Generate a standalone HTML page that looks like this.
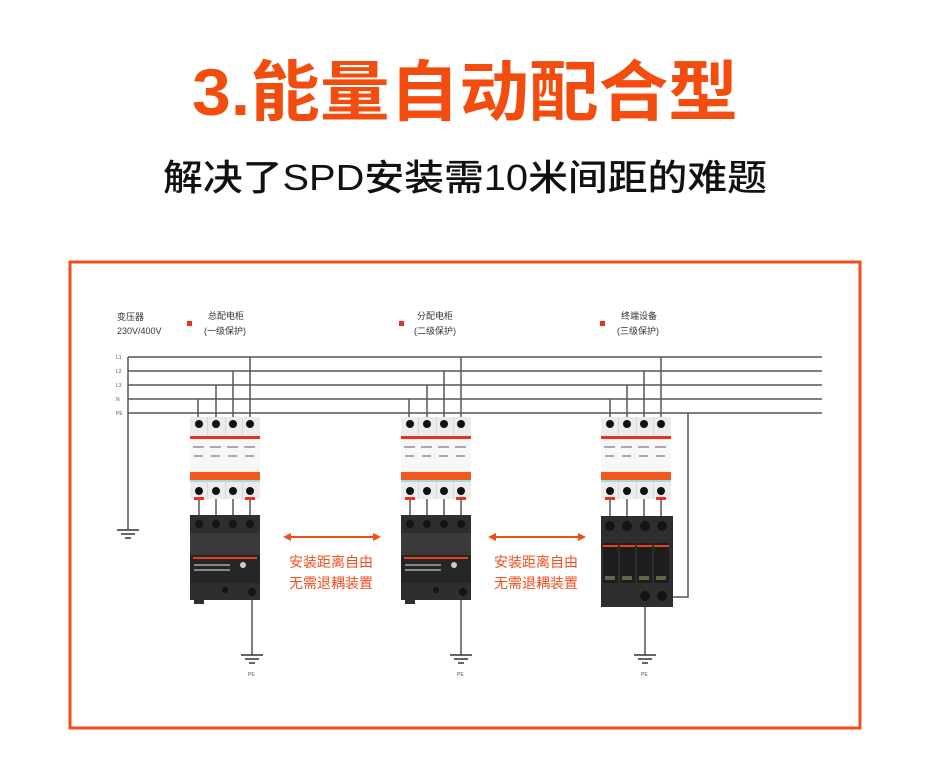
<!DOCTYPE html>
<html><head><meta charset="utf-8"><style>
html,body{margin:0;padding:0;background:#fff;}
svg{display:block;}
text{font-family:"Liberation Sans","Noto Sans CJK SC",sans-serif;}
</style></head><body>
<svg width="930" height="780" viewBox="0 0 930 780" xmlns="http://www.w3.org/2000/svg">
<defs>
  <g id="brk">
    <rect x="0" y="0" width="70" height="82" fill="#ececec"/>
    <rect x="17" y="0" width="1" height="82" fill="#d8d8d8"/>
    <rect x="35" y="0" width="1" height="82" fill="#d8d8d8"/>
    <rect x="52" y="0" width="1" height="82" fill="#d8d8d8"/>
    <rect x="0" y="19" width="70" height="3" fill="#e8321e"/>
    <rect x="0" y="22" width="70" height="32" fill="#f7f7f7"/>
    <rect x="0" y="55" width="70" height="8" fill="#f05a1e"/>
    <rect x="0" y="63" width="70" height="2" fill="#9fdbe8"/>
    <g fill="#111">
      <circle cx="9" cy="7" r="4"/><circle cx="26" cy="7" r="4"/><circle cx="43" cy="7" r="4"/><circle cx="60" cy="7" r="4"/>
      <circle cx="9" cy="74" r="4"/><circle cx="26" cy="74" r="4"/><circle cx="43" cy="74" r="4"/><circle cx="60" cy="74" r="4"/>
    </g>
    <g fill="#aaa">
      <rect x="3" y="29" width="11" height="2"/><rect x="20" y="29" width="11" height="2"/><rect x="37" y="29" width="11" height="2"/><rect x="54" y="29" width="11" height="2"/>
      <rect x="4" y="38" width="9" height="2"/><rect x="21" y="38" width="9" height="2"/><rect x="38" y="38" width="9" height="2"/><rect x="55" y="38" width="9" height="2"/>
    </g>
    <rect x="4" y="80" width="10" height="3" fill="#e8321e"/>
    <rect x="55" y="80" width="10" height="3" fill="#e8321e"/>
  </g>
  <g id="box">
    <rect x="0" y="0" width="70" height="85" fill="#2e2e2e"/>
    <rect x="0" y="18" width="70" height="22" fill="#3a3a3a"/>
    <rect x="0" y="40" width="70" height="28" fill="#262626"/>
    <rect x="3" y="42" width="64" height="2" fill="#e8421e"/>
    <g fill="#141414"><circle cx="9" cy="9" r="4"/><circle cx="26" cy="9" r="4"/><circle cx="43" cy="9" r="4"/><circle cx="60" cy="9" r="4"/><circle cx="35" cy="75" r="3"/><circle cx="62" cy="77" r="4"/></g>
    <g fill="#888"><rect x="4" y="49" width="36" height="2"/><rect x="4" y="54" width="36" height="2"/><circle cx="53" cy="50" r="3" fill="#ccc"/></g>
    <rect x="4" y="85" width="10" height="4" fill="#2e2e2e"/>
  </g>
  <g id="gnd" stroke="#333" stroke-width="1.5">
    <line x1="-11" y1="0" x2="11" y2="0"/><line x1="-7" y1="4" x2="7" y2="4"/><line x1="-3" y1="8" x2="3" y2="8"/>
  </g>
</defs>

<text x="465" y="115" text-anchor="middle" font-size="66" font-weight="bold" fill="#f24d0f" textLength="546" lengthAdjust="spacingAndGlyphs">3.能量自动配合型</text>
<text x="465" y="190" text-anchor="middle" font-size="36" font-weight="500" fill="#111" textLength="604" lengthAdjust="spacingAndGlyphs">解决了SPD安装需10米间距的难题</text>

<rect x="70" y="262" width="790" height="466" fill="none" stroke="#f04e1b" stroke-width="3"/>

<g font-size="9" fill="#333">
  <text x="117" y="320">变压器</text>
  <text x="117" y="334">230V/400V</text>
  <text x="208" y="319">总配电柜</text>
  <text x="204" y="334">(一级保护)</text>
  <text x="417" y="319">分配电柜</text>
  <text x="414" y="334">(二级保护)</text>
  <text x="621" y="319">终端设备</text>
  <text x="617" y="334">(三级保护)</text>
</g>
<g fill="#e8321e"><rect x="187" y="321" width="5" height="5"/><rect x="399" y="321" width="5" height="5"/><rect x="600" y="321" width="5" height="5"/></g>

<g font-size="5" fill="#555">
  <text x="116" y="359">L1</text><text x="116" y="373">L2</text><text x="116" y="387">L3</text><text x="116" y="401">N</text><text x="116" y="415">PE</text>
</g>

<g stroke="#555" stroke-width="1.5" fill="none">
  <line x1="128" y1="357" x2="822" y2="357"/>
  <line x1="128" y1="371" x2="822" y2="371"/>
  <line x1="128" y1="385" x2="822" y2="385"/>
  <line x1="128" y1="399" x2="822" y2="399"/>
  <line x1="128" y1="413" x2="822" y2="413"/>
  <line x1="128" y1="357" x2="128" y2="530"/>
  <line x1="198" y1="399" x2="198" y2="420"/><line x1="216" y1="385" x2="216" y2="420"/><line x1="233" y1="371" x2="233" y2="420"/><line x1="250" y1="357" x2="250" y2="420"/>
  <line x1="409" y1="399" x2="409" y2="420"/><line x1="427" y1="385" x2="427" y2="420"/><line x1="444" y1="371" x2="444" y2="420"/><line x1="461" y1="357" x2="461" y2="420"/>
  <line x1="610" y1="399" x2="610" y2="420"/><line x1="627" y1="385" x2="627" y2="420"/><line x1="644" y1="371" x2="644" y2="420"/><line x1="661" y1="357" x2="661" y2="420"/>
  <line x1="199" y1="495" x2="199" y2="520"/><line x1="216" y1="495" x2="216" y2="520"/><line x1="233" y1="495" x2="233" y2="520"/><line x1="250" y1="495" x2="250" y2="520"/>
  <line x1="410" y1="495" x2="410" y2="520"/><line x1="427" y1="495" x2="427" y2="520"/><line x1="444" y1="495" x2="444" y2="520"/><line x1="461" y1="495" x2="461" y2="520"/>
  <line x1="610" y1="495" x2="610" y2="520"/><line x1="627" y1="495" x2="627" y2="520"/><line x1="644" y1="495" x2="644" y2="520"/><line x1="661" y1="495" x2="661" y2="520"/>
  <line x1="252" y1="592" x2="252" y2="655"/>
  <line x1="461" y1="592" x2="461" y2="655"/>
  <line x1="645" y1="597" x2="645" y2="655"/>
  <polyline points="688,413 688,597 673,597"/>
</g>

<use href="#gnd" x="128" y="530"/>
<use href="#gnd" x="252" y="655"/>
<use href="#gnd" x="461" y="655"/>
<use href="#gnd" x="645" y="655"/>
<g font-size="5" fill="#555"><text x="248" y="676">PE</text><text x="457" y="676">PE</text><text x="641" y="676">PE</text></g>

<use href="#brk" x="190" y="417"/>
<use href="#brk" x="401" y="417"/>
<use href="#brk" x="601" y="417"/>
<use href="#box" x="190" y="515"/>
<use href="#box" x="401" y="515"/>

<g transform="translate(601,516)">
  <rect x="0" y="0" width="72" height="91" fill="#2e2e2e"/>
  <g fill="#141414"><circle cx="9" cy="10" r="5"/><circle cx="26" cy="10" r="5"/><circle cx="44" cy="10" r="5"/><circle cx="61" cy="10" r="5"/><circle cx="44" cy="80" r="5"/><circle cx="61" cy="80" r="5"/></g>
  <g fill="#1e1e1e"><rect x="2" y="27" width="15" height="40"/><rect x="19" y="27" width="15" height="40"/><rect x="36" y="27" width="15" height="40"/><rect x="53" y="27" width="15" height="40"/></g>
  <g fill="#e8421e"><rect x="2" y="29" width="15" height="2"/><rect x="19" y="29" width="15" height="2"/><rect x="36" y="29" width="15" height="2"/><rect x="53" y="29" width="15" height="2"/></g>
  <g fill="#5a6a4a"><rect x="4" y="60" width="10" height="4"/><rect x="21" y="60" width="10" height="4"/><rect x="38" y="60" width="10" height="4"/><rect x="55" y="60" width="10" height="4"/></g>
</g>

<g stroke="#f04e1b" stroke-width="2"><line x1="288" y1="537" x2="376" y2="537"/><line x1="493" y1="537" x2="581" y2="537"/></g>
<g fill="#f04e1b">
  <polygon points="283,537 291,533 291,541"/><polygon points="381,537 373,533 373,541"/>
  <polygon points="488,537 496,533 496,541"/><polygon points="586,537 578,533 578,541"/>
</g>
<g font-size="14" fill="#f04e1b" text-anchor="middle">
  <text x="331" y="567">安装距离自由</text><text x="331" y="588">无需退耦装置</text>
  <text x="536" y="567">安装距离自由</text><text x="536" y="588">无需退耦装置</text>
</g>
</svg>
</body></html>
